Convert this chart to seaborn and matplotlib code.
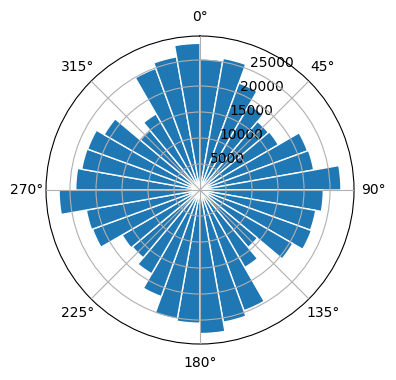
import numpy as np
import matplotlib
matplotlib.use("Agg")
import matplotlib.pyplot as plt
import seaborn as sns

# direction bins (degrees, start of each 10-degree sector)
directions = list(range(0, 360, 10))
counts = [25200, 25700, 21900, 18900, 17200, 17400, 22000, 22200, 27100,
          23700, 22600, 22800, 20600, 14400, 17200, 24700, 25800, 27600,
          25600, 25200, 21800, 18600, 17000, 17300, 22000, 22200, 27100,
          23900, 23100, 23000, 21300, 15000, 16900, 24900, 26000, 28200]
rticks = [5000, 10000, 15000, 20000, 25000]

color = sns.color_palette("tab10")[0]

fig = plt.figure(figsize=(3.96, 3.80), dpi=100)
ax = fig.add_axes([0.1162, 0.0947, 0.7778, 0.8105], projection="polar")
ax.set_theta_zero_location("N")
ax.set_theta_direction(-1)

theta = np.deg2rad(directions)
width = np.deg2rad(10)
ax.bar(theta, counts, width=width, align="edge", color=color,
       edgecolor="white", linewidth=1)
ax.set_rticks(rticks)
ax.set_axisbelow(False)
ax.grid(True)

fig.savefig("out.png", dpi=100)
